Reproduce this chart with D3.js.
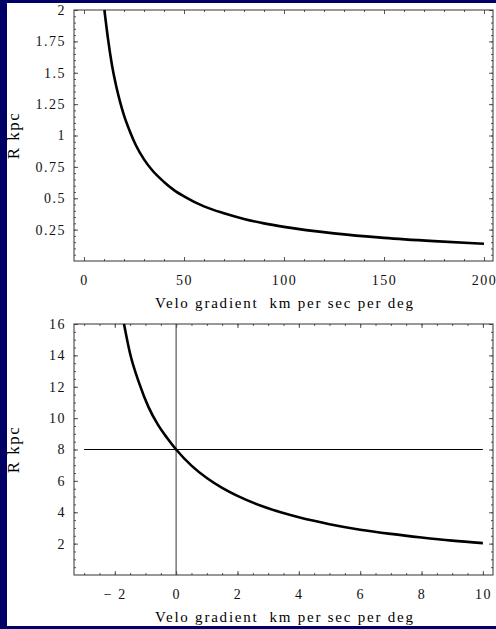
<!doctype html>
<html lang="en">
   <head>
      <meta charset="utf-8">
      <title>R kpc vs velo gradient</title>
      <style>
        body{ margin:0; background:#000066; }
        svg{ display:block; }
        svg text{ font-family:"Liberation Serif", "Times New Roman", Times, serif; }
        .tick text{ font-size:14px; letter-spacing:1.5px; fill:#111; }
        .tick line{ stroke:#555; }
      </style>
   </head>
   <body>
      <div id="aqui"></div>
      <script src="https://d3js.org/d3.v7.min.js"></script>
      <script>
         // curva de arriba
         var topV = [10.2, 12, 14, 16, 18, 20, 23, 26, 30, 34, 40, 45, 50, 60, 70, 80, 90, 100, 125, 150, 175, 200];
         var topR = [2.0, 1.77, 1.56, 1.40, 1.27, 1.16, 1.03, 0.92, 0.81, 0.725, 0.63, 0.565, 0.515, 0.435, 0.38, 0.335, 0.30, 0.272, 0.22, 0.184, 0.158, 0.137];
         var topXTicks = [0, 50, 100, 150, 200];
         var topYTicks = [0.25, 0.5, 0.75, 1, 1.25, 1.5, 1.75, 2];
         var topYLabels = ["0.25", "0.5", "0.75", "1", "1.25", "1.5", "1.75", "2"];

         // curva de abajo
         var botV = [-1.7, -1.5, -1.2, -0.9, -0.6, -0.3, 0, 0.5, 1, 1.5, 2, 3, 4, 5, 6, 7, 8, 9, 10];
         var botR = [16, 14.1, 12.2, 10.7, 9.6, 8.75, 8.0, 6.97, 6.18, 5.55, 5.04, 4.25, 3.68, 3.24, 2.89, 2.62, 2.39, 2.19, 2.03];
         var botXTicks = [-2, 0, 2, 4, 6, 8, 10];
         var botXLabels = ["\u2212 2", "0", "2", "4", "6", "8", "10"];
         var botYTicks = [2, 4, 6, 8, 10, 12, 14, 16];
         var refR = 8, refV = 0;

         var w = 496, h = 629;

         var svg = d3.select("#aqui")
           .append("svg")
           .attr("width", w)
           .attr("height", h);

         svg.append("rect")
           .attr("x", 0).attr("y", 0).attr("width", w).attr("height", h)
           .attr("fill", "#000066");
         svg.append("rect")
           .attr("x", 7).attr("y", 3).attr("width", w - 7).attr("height", 623)
           .attr("fill", "#ffffff");

         function panel(opt) {
           var x = d3.scaleLinear().domain(opt.xDomain).range([74, 493]);
           var y = d3.scaleLinear().domain(opt.yDomain).range([opt.bottom, opt.top]);
           var g = svg.append("g");

           // lineas de referencia (solo abajo)
           if (opt.ref) {
             g.append("line")
               .attr("x1", x(refV)).attr("x2", x(refV))
               .attr("y1", y(opt.yDomain[0])).attr("y2", y(opt.yDomain[1]))
               .attr("stroke", "#808080").attr("stroke-width", 1.6);
             g.append("line")
               .attr("x1", x(-3)).attr("x2", x(10))
               .attr("y1", y(refR)).attr("y2", y(refR))
               .attr("stroke", "#000").attr("stroke-width", 1);
           }

           // ticks chicos y grandes en los cuatro lados
           function ax(axis, tr, vals, size, fmt) {
             var a = axis.tickValues(vals).tickSize(size).tickPadding(4);
             a.tickFormat(fmt ? fmt : function() { return ""; });
             var s = g.append("g").attr("transform", tr).call(a);
             s.attr("font-family", null);
             s.select(".domain").remove();
             return s;
           }
           var by = "translate(0," + opt.bottom + ")";
           var ty = "translate(0," + opt.top + ")";
           ax(d3.axisBottom(x), by, opt.xMinor, -2);
           ax(d3.axisTop(x), ty, opt.xMinor, -2);
           ax(d3.axisBottom(x), by, opt.xTicks, -4, function(d, i) { return opt.xLabels[i]; })
             .selectAll("text").attr("dy", "0").attr("y", 24);
           ax(d3.axisTop(x), ty, opt.xTicks, -4);
           ax(d3.axisLeft(y), "translate(74,0)", opt.yMinor, -2);
           ax(d3.axisRight(y), "translate(493,0)", opt.yMinor, -2);
           ax(d3.axisLeft(y), "translate(74,0)", opt.yTicks, -4, function(d, i) { return opt.yLabels[i]; })
             .selectAll("text").attr("x", -8);
           ax(d3.axisRight(y), "translate(493,0)", opt.yTicks, -4);

           g.append("rect")
             .attr("x", 74).attr("y", opt.top)
             .attr("width", 493 - 74).attr("height", opt.bottom - opt.top)
             .attr("fill", "none").attr("stroke", "#333").attr("stroke-width", 1);

           var line = d3.line()
             .x(function(d) { return x(d[0]); })
             .y(function(d) { return y(d[1]); })
             .curve(d3.curveMonotoneX);
           g.append("path")
             .datum(opt.v.map(function(v, i) { return [v, opt.r[i]]; }))
             .attr("d", line)
             .attr("fill", "none").attr("stroke", "#000").attr("stroke-width", 2.6);

           g.append("text")
             .attr("x", 284).attr("y", opt.titleY)
             .attr("text-anchor", "middle")
             .style("font-size", "15px")
             .style("white-space", "pre")
             .attr("textLength", 258).attr("lengthAdjust", "spacing")
             .text("Velo gradient  km per sec per deg");

           g.append("text")
             .attr("transform", "translate(19," + ((opt.top + opt.bottom) / 2) + ") rotate(-90)")
             .attr("text-anchor", "middle")
             .style("font-size", "17px")
             .style("letter-spacing", "1.5px")
             .text("R kpc");
         }

         panel({
           xDomain: [-5, 204.5], yDomain: [0, 2], top: 10, bottom: 261,
           xTicks: topXTicks, xLabels: topXTicks.map(String),
           xMinor: d3.range(0, 201, 10),
           yTicks: topYTicks, yLabels: topYLabels,
           yMinor: d3.range(0.05, 2.01, 0.05),
           v: topV, r: topR, titleY: 308, ref: false
         });

         panel({
           xDomain: [-3.33, 10.33], yDomain: [0, 16], top: 324, bottom: 575,
           xTicks: botXTicks, xLabels: botXLabels,
           xMinor: d3.range(-3, 10.01, 0.5),
           yTicks: botYTicks, yLabels: botYTicks.map(String),
           yMinor: d3.range(0.5, 16.01, 0.5),
           v: botV, r: botR, titleY: 622, ref: true
         });
      </script>
   </body>
</html>
